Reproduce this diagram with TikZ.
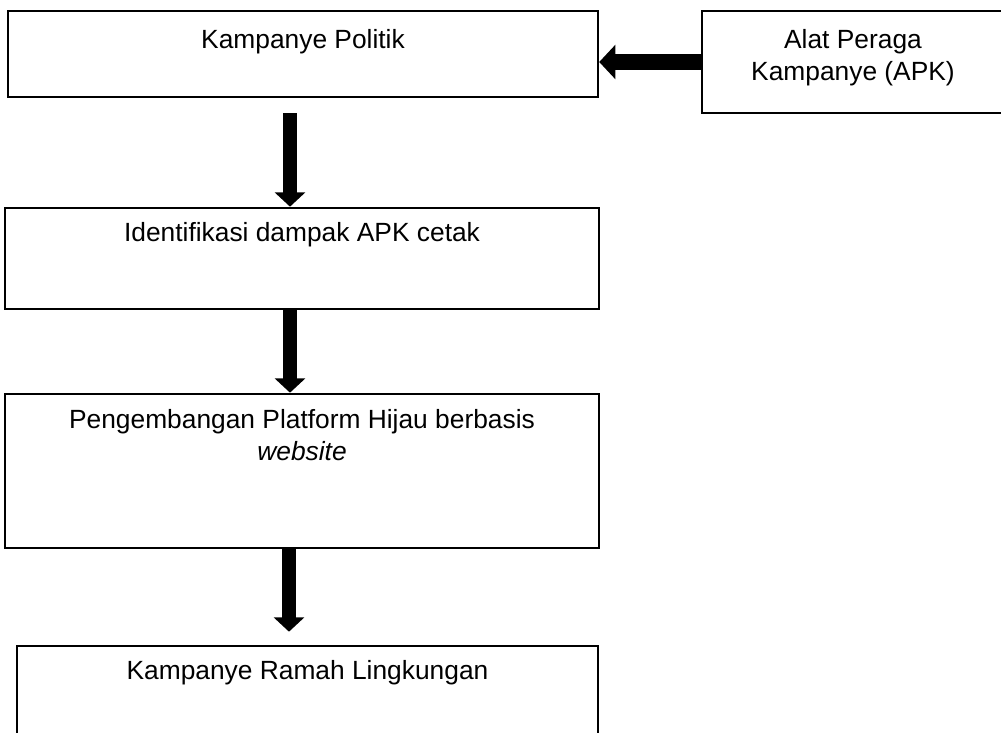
\documentclass[tikz,border=0pt]{standalone}
\usepackage{fontspec}
\setmainfont{Liberation Sans}
\usetikzlibrary{arrows.meta}
\begin{document}
\begin{tikzpicture}[x=0.016cm, y=-0.016cm,
        kotak/.style={draw, line width=1.2pt, rectangle, inner sep=0pt},
        teks/.style={anchor=north, inner sep=0pt, align=center, font=\fontsize{12}{14.6}\selectfont},
        panah/.style={line width=0.24cm, -{Triangle[width=0.48cm, length=0.23cm]}}]
        \clip (0,0) rectangle (1001,733);
        \node[kotak, minimum width=9.44cm, minimum height=1.376cm] (politik) at (303,54) {};
        \node[kotak, minimum width=4.896cm, minimum height=1.632cm] (apk) at (855,62) {};
        \node[kotak, minimum width=9.504cm, minimum height=1.616cm] (identifikasi) at (302,258.5) {};
        \node[kotak, minimum width=9.504cm, minimum height=2.464cm] (platform) at (302,471) {};
        \node[kotak, minimum width=9.296cm, minimum height=1.984cm] (ramah) at (307.5,708) {};
        \node[teks] (politik-teks) at ([shift={(0,19)}]politik.north) {Kampanye Politik};
        \node[teks] (apk-teks) at ([shift={(-2,19)}]apk.north) {Alat Peraga\\Kampanye (APK)};
        \node[teks] (identifikasi-teks) at ([shift={(0,15)}]identifikasi.north) {Identifikasi dampak APK cetak};
        \node[teks] (platform-teks) at ([shift={(0,16)}]platform.north) {Pengembangan Platform Hijau berbasis\\\textit{website}};
        \node[teks] (ramah-teks) at ([shift={(0,15)}]ramah.north) {Kampanye Ramah Lingkungan};
        \draw[panah, line width=0.27cm, -{Triangle[width=0.54cm, length=0.26cm]}] (apk.west) -- (politik.east |- apk.west);
        \draw[panah] ([shift={(-13,15)}]politik.south) -- ([shift={(-12,0)}]identifikasi.north);
        \draw[panah] ([shift={(-12,0)}]identifikasi.south) -- ([shift={(-12,0)}]platform.north);
        \draw[panah] ([shift={(-13,0)}]platform.south) -- ([shift={(-18.5,-13)}]ramah.north);
    \end{tikzpicture}
\end{document}
